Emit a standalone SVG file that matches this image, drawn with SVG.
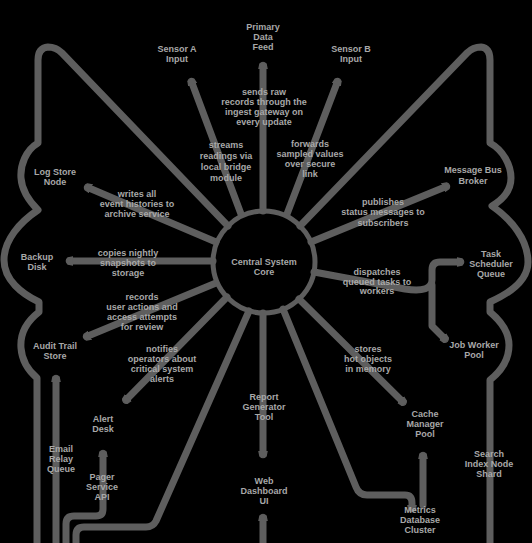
<svg xmlns="http://www.w3.org/2000/svg" width="532" height="543" viewBox="0 0 532 543">
<defs>
<style>
.ln{fill:none;stroke:#5e5e5e;stroke-width:7;stroke-linecap:round;stroke-linejoin:round}
.ar{marker-end:url(#ah)}
text{font-family:"Liberation Sans",Arial,sans-serif;font-size:9px;font-weight:bold;fill:#a8a8a8;text-anchor:middle}
</style>
<marker id="ah" viewBox="0 0 10 10" refX="2" refY="5" markerWidth="10" markerHeight="10" markerUnits="userSpaceOnUse" orient="auto">
<path d="M0,0.8 L5,1.8 Q8.5,5 5,8.2 L0,9.2 z" fill="#5e5e5e" stroke="#5e5e5e" stroke-width="1.2" stroke-linejoin="round"/>
</marker>
</defs>
<rect width="532" height="543" fill="#000"/>
<g id="connectors">
<path class="ln" d="M228,226 L62,53 Q56,47 48,47 Q38,48 38,60 L38,143 C26,150 20,165 21,178 C22,192 30,202 38,210 C20,222 4,240 4,260 C4,280 22,294 39,302 L39,312 C26,322 20,335 21,348 C22,362 30,372 37,378 L37,543"/>
<path class="ln" d="M300,226 L467,53 Q473,47 481,47 Q490,48 490,60 L490,143 C503,150 511,165 511,178 C511,192 502,200 492,206 C512,220 528,240 528,262 C528,282 508,294 490,302 L490,312 C502,322 509,333 509,345 C509,360 500,372 490,380 L490,543"/>
<path class="ln ar" d="M263,211 L263,67"/>
<path class="ln ar" d="M241,214 L192,83"/>
<path class="ln ar" d="M287,214 L337,83"/>
<path class="ln ar" d="M216,242 L89,188"/>
<path class="ln ar" d="M213,261 L71,261"/>
<path class="ln ar" d="M216,283 L88,336"/>
<path class="ln ar" d="M227,297 L127,399"/>
<path class="ln" d="M249,311 L156,521 Q153,527 146,527 L84,527 Q76,527 76,535 L76,543"/>
<path class="ln ar" d="M263,313 L263,453"/>
<path class="ln ar" d="M263,543 L263,519"/>
<path class="ln ar" d="M299,299 L402,401"/>
<path class="ln ar" d="M283,309 L356,487 Q359,495 367,495 L405,495 Q412,495 412,503 L412,507"/>
<path class="ln ar" d="M311,242 L445,187"/>
<path class="ln ar" d="M314,272 L405,289 Q432,293 432,280 L432,270 Q432,262 440,262 L459,262"/>
<path class="ln ar" d="M432,285 L432,326 L444,338"/>
<path class="ln ar" d="M423,505 L423,457"/>
<path class="ln ar" d="M66,543 L66,524 Q66,516 74,516 L96,516 Q103,516 103,509 L103,455"/>
<path class="ln ar" d="M56,543 L56,380"/>
</g>
<g id="hub">
<circle cx="264" cy="262" r="51" fill="none" stroke="#5e5e5e" stroke-width="5"/>
<text x="264" y="265">Central System</text>
<text x="264" y="275">Core</text>
</g>
<g id="n-top"><text x="263" y="30">Primary</text><text x="263" y="40">Data</text><text x="263" y="50">Feed</text></g>
<g id="n-topleft"><text x="177" y="52">Sensor A</text><text x="177" y="62">Input</text></g>
<g id="n-topright"><text x="351" y="52">Sensor B</text><text x="351" y="62">Input</text></g>
<g id="lbl-a"><text x="264" y="95">sends raw</text><text x="264" y="105">records through the</text><text x="264" y="115">ingest gateway on</text><text x="264" y="125">every update</text></g>
<g id="lbl-b"><text x="226" y="148">streams</text><text x="226" y="159">readings via</text><text x="226" y="170">local bridge</text><text x="226" y="181">module</text></g>
<g id="lbl-c"><text x="310" y="147">forwards</text><text x="310" y="157">sampled values</text><text x="310" y="167">over secure</text><text x="310" y="177">link</text></g>
<g id="n-l1"><text x="55" y="175">Log Store</text><text x="55" y="185">Node</text></g>
<g id="lbl-l1"><text x="137" y="197">writes all</text><text x="137" y="207">event histories to</text><text x="137" y="217">archive service</text></g>
<g id="n-l2"><text x="37" y="260">Backup</text><text x="37" y="270">Disk</text></g>
<g id="lbl-l2"><text x="128" y="256">copies nightly</text><text x="128" y="266">snapshots to</text><text x="128" y="276">storage</text></g>
<g id="n-l3"><text x="55" y="349">Audit Trail</text><text x="55" y="359">Store</text></g>
<g id="lbl-l3"><text x="142" y="300">records</text><text x="142" y="310">user actions and</text><text x="142" y="320">access attempts</text><text x="142" y="330">for review</text></g>
<g id="lbl-l4"><text x="162" y="352">notifies</text><text x="162" y="362">operators about</text><text x="162" y="372">critical system</text><text x="162" y="382">alerts</text></g>
<g id="n-l4"><text x="103" y="422">Alert</text><text x="103" y="432">Desk</text></g>
<g id="n-l5"><text x="61" y="452">Email</text><text x="61" y="462">Relay</text><text x="61" y="472">Queue</text></g>
<g id="n-l6"><text x="102" y="480">Pager</text><text x="102" y="490">Service</text><text x="102" y="500">API</text></g>
<g id="n-b1"><text x="264" y="400">Report</text><text x="264" y="410">Generator</text><text x="264" y="420">Tool</text></g>
<g id="n-b2"><text x="264" y="484">Web</text><text x="264" y="494">Dashboard</text><text x="264" y="504">UI</text></g>
<g id="n-rb"><text x="420" y="513">Metrics</text><text x="420" y="523">Database</text><text x="420" y="533">Cluster</text></g>
<g id="n-r420"><text x="425" y="417">Cache</text><text x="425" y="427">Manager</text><text x="425" y="437">Pool</text></g>
<g id="n-r462"><text x="489" y="457">Search</text><text x="489" y="467">Index Node</text><text x="489" y="477">Shard</text></g>
<g id="lbl-r358"><text x="368" y="352">stores</text><text x="368" y="362">hot objects</text><text x="368" y="372">in memory</text></g>
<g id="n-r350"><text x="474" y="348">Job Worker</text><text x="474" y="358">Pool</text></g>
<g id="lbl-r283"><text x="377" y="275">dispatches</text><text x="377" y="285">queued tasks to</text><text x="377" y="294">workers</text></g>
<g id="n-r262"><text x="491" y="257">Task</text><text x="491" y="267">Scheduler</text><text x="491" y="277">Queue</text></g>
<g id="lbl-r210"><text x="383" y="205">publishes</text><text x="383" y="215">status messages to</text><text x="383" y="226">subscribers</text></g>
<g id="n-r175"><text x="473" y="173">Message Bus</text><text x="473" y="184">Broker</text></g>
</svg>
